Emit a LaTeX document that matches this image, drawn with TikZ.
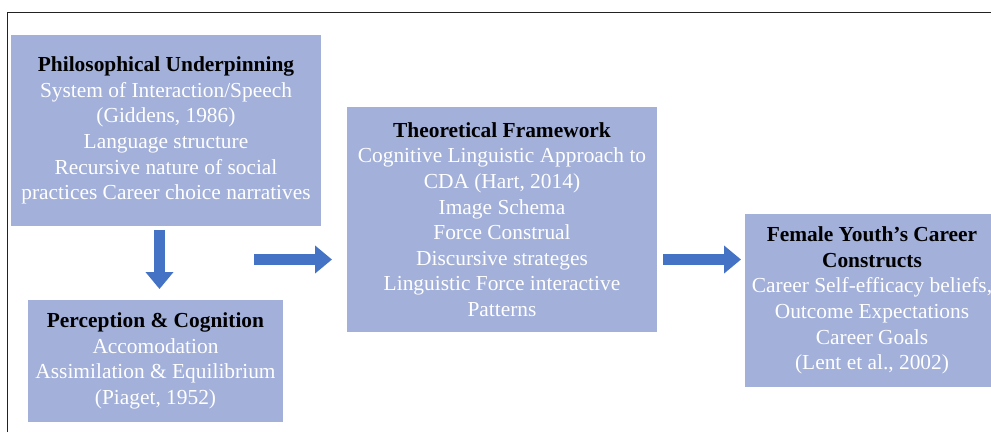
\documentclass[tikz,border=0pt]{standalone}
\usepackage{fontspec}
\setmainfont{Liberation Serif}
\usetikzlibrary{arrows.meta}
\definecolor{boxfill}{HTML}{A2B0DA}
\definecolor{arrowblue}{HTML}{4472C4}
\definecolor{framegray}{HTML}{222222}
\begin{document}
\begin{tikzpicture}[x=1pt,y=-1pt,
  box/.style={fill=boxfill, inner sep=0pt, align=center, text=white,
    font=\fontsize{21.4}{25.6}\selectfont},
  blockarrow/.style={draw=arrowblue, line width=11.5pt, line cap=butt,
    -{Triangle[width=27pt,length=17pt]}}]
\useasboundingbox (0,0) rectangle (991,432);
\clip (0,0) rectangle (991,432);
\draw[framegray, line width=1.7pt] (7.5,432) -- (7.5,12.5) -- (991,12.5);

\node[box, minimum width=310pt, minimum height=191pt] (p1) at (166,130.5)
  {\textcolor{black}{\textbf{Philosophical Underpinning}}\\
   System of Interaction/Speech\\
   (Giddens, 1986)\\
   Language structure\\
   Recursive nature of social\\
   practices Career choice narratives};

\node[box, minimum width=255pt, minimum height=122pt] (p2) at (155.5,361)
  {\textcolor{black}{\textbf{Perception \& Cognition}}\\
   Accomodation\\
   Assimilation \& Equilibrium\\
   (Piaget, 1952)\rule[-5pt]{0pt}{5pt}};

\node[box, minimum width=310pt, minimum height=225pt] (p3) at (502,219.5)
  {\textcolor{black}{\textbf{Theoretical Framework}}\\
   Cognitive Linguistic Approach to\\
   CDA (Hart, 2014)\\
   Image Schema\\
   Force Construal\\
   Discursive strateges\\
   Linguistic Force interactive\\
   Patterns};

\node[box, minimum width=254pt, minimum height=173pt] (p4) at (872,300.5)
  {\textcolor{black}{\textbf{Female Youth’s Career}}\\
   \textcolor{black}{\textbf{Constructs}}\\
   Career Self-efficacy beliefs,\\
   Outcome Expectations\\
   Career Goals\\
   (Lent et al., 2002)};

\coordinate (d1) at (159.5,230);
\coordinate (d2) at (159.5,289);
\coordinate (r1) at (254,259.5);
\coordinate (r2) at (332,259.5);
\coordinate (s1) at (663,259.5);
\coordinate (s2) at (741,259.5);
\draw[blockarrow] (d1) -- (d2);
\draw[blockarrow] (r1) -- (r2);
\draw[blockarrow] (s1) -- (s2);
\end{tikzpicture}
\end{document}
